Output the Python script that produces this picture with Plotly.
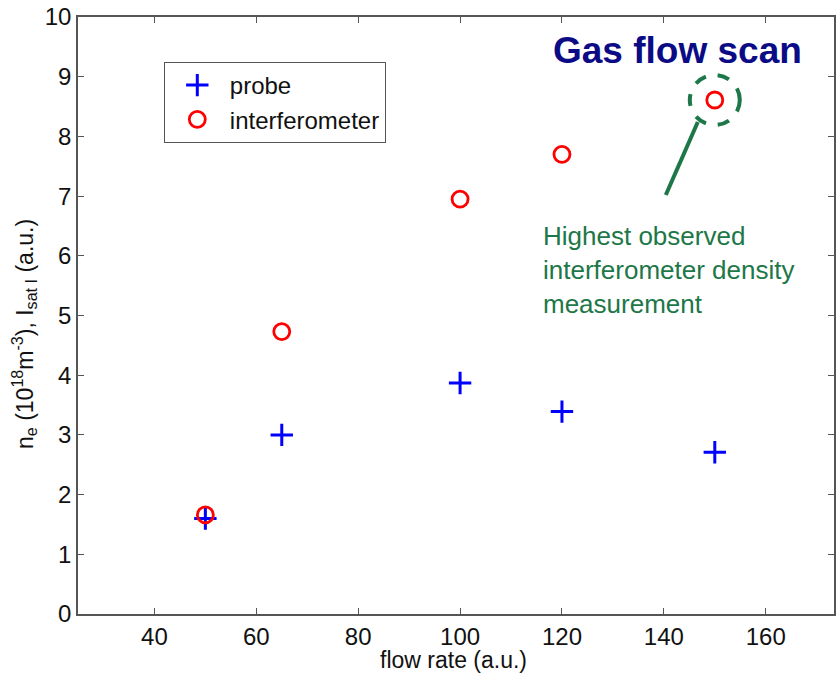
import plotly.graph_objects as go

flow_rate = [50, 65, 100, 120, 150]
probe = [1.6, 3.0, 3.87, 3.39, 2.71]
interferometer = [1.66, 4.73, 6.95, 7.70, 8.61]
x_ticks = [40, 60, 80, 100, 120, 140, 160]
y_ticks = list(range(0, 11))

FONT = "Liberation Sans, Arial, Helvetica, sans-serif"
GREEN = "#1d7748"
AX = "#555555"
TXT = "#111111"

fig = go.Figure()
fig.add_trace(go.Scatter(
    x=flow_rate, y=probe, mode="markers", name="probe",
    marker=dict(symbol="cross-thin", size=16, line=dict(color="#0000ff", width=3)),
))
fig.add_trace(go.Scatter(
    x=flow_rate, y=interferometer, mode="markers", name="interferometer",
    marker=dict(symbol="circle-open", size=16, color="#ff0000", line=dict(color="#ff0000", width=2.8)),
))

# dashed highlight circle around the highest interferometer point
hx, hy = flow_rate[-1], interferometer[-1]
fig.add_shape(type="circle", xref="x", yref="y",
              xsizemode="pixel", ysizemode="pixel", xanchor=hx, yanchor=hy,
              x0=-25, x1=25, y0=-25, y1=25,
              line=dict(color=GREEN, width=4, dash="dash"))
fig.add_shape(type="line", xref="x", yref="y",
              xsizemode="pixel", ysizemode="pixel", xanchor=hx, yanchor=hy,
              x0=-17, x1=-49, y0=-22, y1=-95,
              line=dict(color=GREEN, width=4))

fig.add_annotation(text="<b>Gas flow scan</b>", xref="paper", yref="paper",
                   x=0.793, y=0.9447, xanchor="center", yanchor="middle",
                   showarrow=False, font=dict(family=FONT, size=37, color="#0b0b86"))
fig.add_annotation(text="Highest observed<br>interferometer density<br>measurement",
                   xref="paper", yref="paper", x=0.612, y=0.661,
                   xanchor="left", yanchor="top", align="left", showarrow=False,
                   font=dict(family=FONT, size=26, color=GREEN))

# y-axis title placed as annotation (sits slightly below centre in the reference)
fig.add_annotation(text="n<sub>e</sub> (10<sup>18</sup>m<sup>-3</sup>), I<sub>sat I</sub> (a.u.)",
                   xref="paper", yref="paper", x=0, xshift=-54, y=0.469,
                   xanchor="center", yanchor="middle", textangle=-90, showarrow=False,
                   font=dict(family=FONT, size=23, color=TXT))
fig.add_annotation(text="flow rate (a.u.)", xref="paper", yref="paper",
                   x=0.497, y=0, yshift=-46, xanchor="center", yanchor="middle",
                   showarrow=False, font=dict(family=FONT, size=23, color=TXT))

axis_common = dict(showgrid=False, zeroline=False, showline=True, linecolor=AX, linewidth=1.5,
                   mirror="ticks", ticks="inside", ticklen=6, tickcolor=AX,
                   tickfont=dict(family=FONT, size=24, color=TXT))

fig.update_xaxes(range=[25, 173.4], tickvals=x_ticks, **axis_common)
fig.update_yaxes(range=[0, 10], tickvals=y_ticks, **axis_common)

fig.update_layout(
    width=837, height=673,
    margin=dict(l=78, r=1, t=17, b=59),
    plot_bgcolor="white", paper_bgcolor="white",
    legend=dict(x=0.1135, y=0.9246, xanchor="left", yanchor="top",
                bordercolor=AX, borderwidth=1, bgcolor="white",
                font=dict(family=FONT, size=24, color=TXT),
                itemwidth=55, tracegroupgap=0),
    showlegend=True,
)

fig.write_html("out.html")
